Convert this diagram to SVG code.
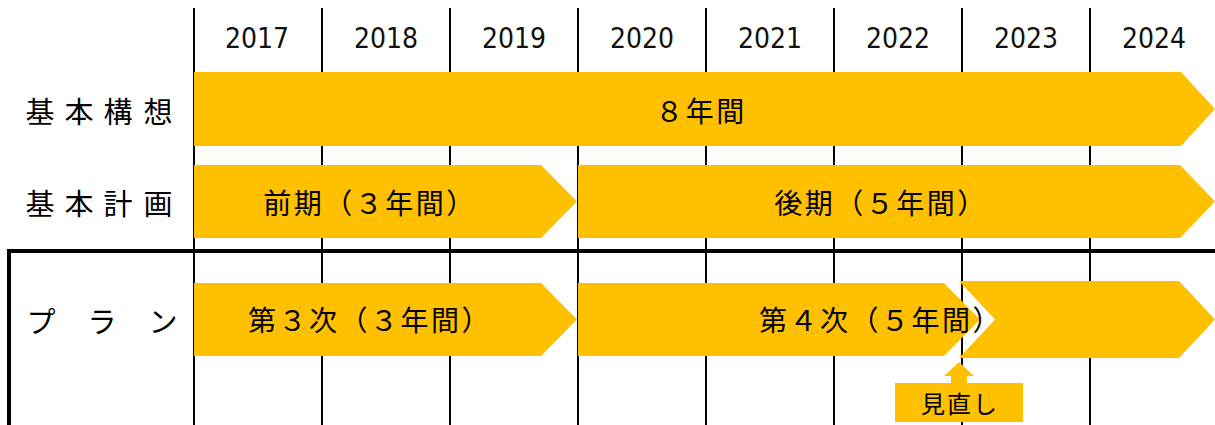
<svg xmlns="http://www.w3.org/2000/svg" width="1215" height="425" viewBox="0 0 1215 425">
<style>
.grid{stroke:#000;stroke-width:2;fill:none}
.frame{stroke:#000;stroke-width:4;fill:none}
.bar{fill:#FFC000}
.yr{font-family:"DejaVu Sans Condensed","DejaVu Sans",sans-serif;font-stretch:condensed;font-size:28px;fill:#111;text-anchor:middle}
.lbl{font-family:"Noto Sans CJK JP","Noto Sans",sans-serif;font-size:29px;fill:#000;text-anchor:middle}
.bt{font-family:"Noto Sans CJK JP","Noto Sans",sans-serif;font-size:28px;fill:#000;text-anchor:middle;letter-spacing:2.5px}
.st{font-family:"Noto Sans CJK JP","Noto Sans",sans-serif;font-size:24px;fill:#000;text-anchor:middle;letter-spacing:2px}
</style>
<rect width="1215" height="425" fill="#fff"/>
<g id="connectors">
<line class="grid" x1="194" y1="8" x2="194" y2="425"/>
<line class="grid" x1="322" y1="8" x2="322" y2="425"/>
<line class="grid" x1="450" y1="8" x2="450" y2="425"/>
<line class="grid" x1="578" y1="8" x2="578" y2="425"/>
<line class="grid" x1="706" y1="8" x2="706" y2="425"/>
<line class="grid" x1="834" y1="8" x2="834" y2="425"/>
<line class="grid" x1="962" y1="8" x2="962" y2="425"/>
<line class="grid" x1="1090" y1="8" x2="1090" y2="425"/>
<polyline class="frame" points="1215,251 9,251 9,425"/>
</g>
<g id="years">
<text class="yr" x="257" y="48">2017</text>
<text class="yr" x="386" y="48">2018</text>
<text class="yr" x="514" y="48">2019</text>
<text class="yr" x="642" y="48">2020</text>
<text class="yr" x="770" y="48">2021</text>
<text class="yr" x="898" y="48">2022</text>
<text class="yr" x="1026" y="48">2023</text>
<text class="yr" x="1154" y="48">2024</text>
</g>
<g id="row-labels">
<text class="lbl" x="40 79 118 158" y="123">基本構想</text>
<text class="lbl" x="40 79 118 158" y="215">基本計画</text>
<text class="lbl" x="41 102 163" y="333">プラン</text>
</g>
<g id="kihon-kousou">
<polygon class="bar" points="194,72 1181,72 1215,109 1181,146 194,146"/>
<text class="bt" x="701" y="122">８年間</text>
</g>
<g id="zenki">
<polygon class="bar" points="194,165 541,165 577,201.5 541,238 194,238"/>
<text class="bt" x="370" y="214">前期（３年間）</text>
</g>
<g id="kouki">
<polygon class="bar" points="578,165 1180,165 1215,201.5 1180,238 578,238"/>
<text class="bt" x="881" y="214">後期（５年間）</text>
</g>
<g id="plan3">
<polygon class="bar" points="194,283 541,283 577,319.5 541,356 194,356"/>
<text class="bt" x="370" y="331">第３次（３年間）</text>
</g>
<g id="plan4">
<polygon class="bar" points="578,283 944,283 980,319.5 944,356 578,356"/>
<text class="bt" x="881" y="331">第４次（５年間）</text>
</g>
<g id="plan5">
<polygon class="bar" points="959,281 1179,281 1215,319.5 1179,358 959,358 995,319.5"/>
</g>
<g id="minaoshi">
<polygon class="bar" points="959,362 974,376 967,376 967,384 951,384 951,376 944,376"/>
<rect class="bar" x="895" y="383" width="128" height="39"/>
<text class="st" x="960" y="413">見直し</text>
</g>
</svg>
